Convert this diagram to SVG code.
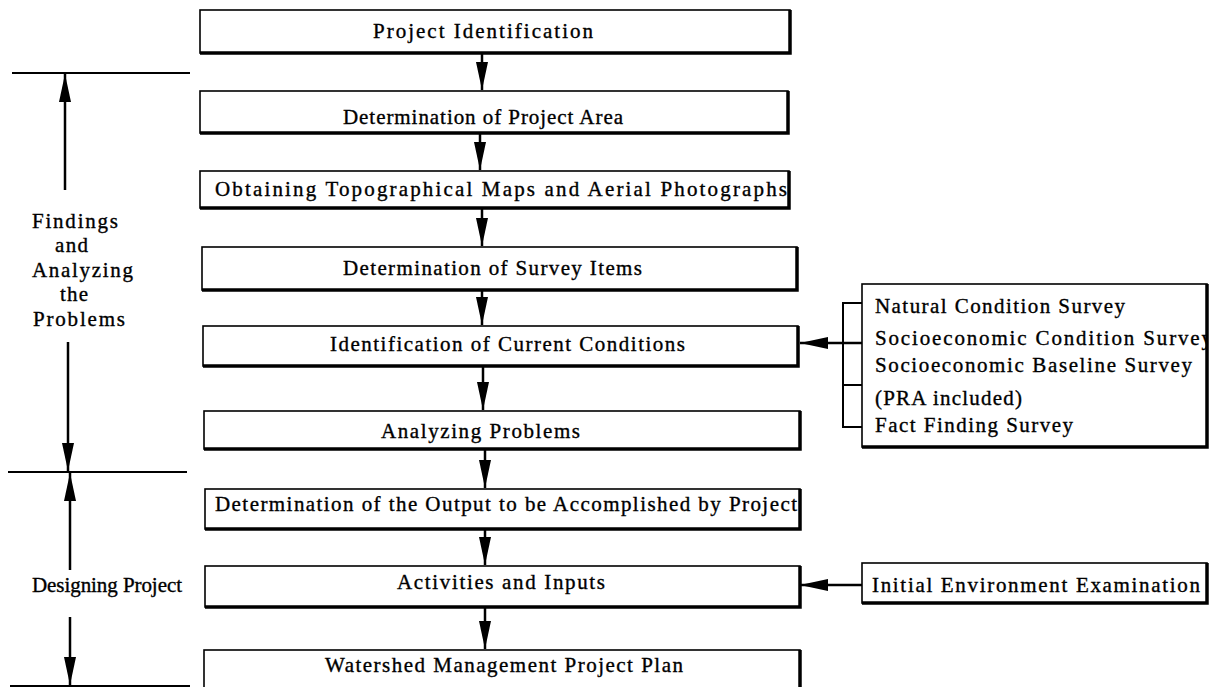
<svg xmlns="http://www.w3.org/2000/svg" width="1216" height="687" viewBox="0 0 1216 687">
<style>
.box{fill:#fff;stroke:#000;stroke-width:1.6}
.sh{fill:none;stroke:#000;stroke-width:3.5}
.t{font-family:"Liberation Serif","Times New Roman",serif;font-size:21px;fill:#000;stroke:#000;stroke-width:0.35}
.ln{fill:none;stroke:#000;stroke-width:2}
.ar{fill:none;stroke:#000;stroke-width:2.5;marker-end:url(#ah)}
</style>
<defs>
<marker id="ah" viewBox="0 0 28 12" refX="28" refY="6" markerWidth="28" markerHeight="12" markerUnits="userSpaceOnUse" orient="auto">
<path d="M0,0 L28,6 L0,12 z" fill="#000"/>
</marker>
<clipPath id="cl"><rect x="862" y="284" width="344" height="163"/></clipPath>
</defs>
<rect width="1216" height="687" fill="#fff"/>

<g id="connectors">
<line class="ar" x1="482" y1="53" x2="482" y2="90"/>
<line class="ar" x1="480" y1="133" x2="480" y2="170"/>
<line class="ar" x1="482" y1="208" x2="482" y2="246"/>
<line class="ar" x1="482" y1="290" x2="482" y2="325"/>
<line class="ar" x1="483" y1="366" x2="483" y2="410"/>
<line class="ar" x1="485" y1="449" x2="485" y2="488"/>
<line class="ar" x1="485" y1="529" x2="485" y2="565"/>
<line class="ar" x1="485" y1="607" x2="485" y2="649"/>
<line class="ar" x1="862" y1="343" x2="800" y2="343"/>
<polyline class="ln" points="862,303 843,303 843,427 862,427"/>
<line class="ln" x1="843" y1="385" x2="862" y2="385"/>
<line class="ar" x1="862" y1="585" x2="800" y2="585"/>
<line class="ln" x1="12" y1="73" x2="190" y2="73"/>
<line class="ln" x1="8" y1="472" x2="187" y2="472"/>
<line class="ln" x1="10" y1="686" x2="190" y2="686"/>
<line class="ar" x1="65" y1="190" x2="65" y2="74"/>
<line class="ar" x1="68" y1="342" x2="68" y2="471"/>
<line class="ar" x1="70" y1="570" x2="70" y2="473"/>
<line class="ar" x1="70" y1="617" x2="70" y2="685"/>
</g>

<g id="n1">
<rect class="box" x="200" y="10" width="590" height="43"/>
<polyline class="sh" points="790,10 790,53 200,53"/>
<text class="t" x="373" y="38" textLength="220" lengthAdjust="spacing">Project Identification</text>
</g>
<g id="n2">
<rect class="box" x="200" y="91" width="588" height="42"/>
<polyline class="sh" points="788,91 788,133 200,133"/>
<text class="t" x="343" y="124" textLength="280" lengthAdjust="spacing">Determination of Project Area</text>
</g>
<g id="n3">
<rect class="box" x="200" y="171" width="589" height="37"/>
<polyline class="sh" points="789,171 789,208 200,208"/>
<text class="t" x="215" y="196" textLength="572" lengthAdjust="spacing">Obtaining Topographical Maps and Aerial Photographs</text>
</g>
<g id="n4">
<rect class="box" x="202" y="247" width="595" height="43"/>
<polyline class="sh" points="797,247 797,290 202,290"/>
<text class="t" x="343" y="275" textLength="299" lengthAdjust="spacing">Determination of Survey Items</text>
</g>
<g id="n5">
<rect class="box" x="203" y="326" width="595" height="40"/>
<polyline class="sh" points="798,326 798,366 203,366"/>
<text class="t" x="330" y="351" textLength="355" lengthAdjust="spacing">Identification of Current Conditions</text>
</g>
<g id="n6">
<rect class="box" x="204" y="411" width="596" height="38"/>
<polyline class="sh" points="800,411 800,449 204,449"/>
<text class="t" x="381" y="438" textLength="199" lengthAdjust="spacing">Analyzing Problems</text>
</g>
<g id="n7">
<rect class="box" x="205" y="489" width="595" height="40"/>
<polyline class="sh" points="800,489 800,529 205,529"/>
<text class="t" x="215" y="511" textLength="582" lengthAdjust="spacing">Determination of the Output to be Accomplished by Project</text>
</g>
<g id="n8">
<rect class="box" x="205" y="566" width="595" height="41"/>
<polyline class="sh" points="800,566 800,607 205,607"/>
<text class="t" x="397" y="589" textLength="208" lengthAdjust="spacing">Activities and Inputs</text>
</g>
<g id="n9">
<rect class="box" x="204" y="650" width="596" height="40"/>
<polyline class="sh" points="800,650 800,690"/>
<text class="t" x="325" y="672" textLength="358" lengthAdjust="spacing">Watershed Management Project Plan</text>
</g>

<g id="surveys">
<rect class="box" x="862" y="284" width="345" height="163"/>
<polyline class="sh" points="1207,284 1207,447 862,447"/>
<text class="t" x="875" y="313" textLength="250" lengthAdjust="spacing">Natural Condition Survey</text>
<text class="t" x="875" y="345" textLength="337" lengthAdjust="spacing" clip-path="url(#cl)">Socioeconomic Condition Survey</text>
<text class="t" x="875" y="372" textLength="317" lengthAdjust="spacing">Socioeconomic Baseline Survey</text>
<text class="t" x="875" y="405" textLength="147" lengthAdjust="spacing">(PRA included)</text>
<text class="t" x="875" y="432" textLength="198" lengthAdjust="spacing">Fact Finding Survey</text>
</g>

<g id="iee">
<rect class="box" x="862" y="563" width="345" height="40"/>
<polyline class="sh" points="1207,563 1207,603 862,603"/>
<text class="t" x="872" y="592" textLength="328" lengthAdjust="spacing">Initial Environment Examination</text>
</g>

<g id="phase1">
<text class="t" x="32" y="228" textLength="86" lengthAdjust="spacing">Findings</text>
<text class="t" x="55" y="252" textLength="33" lengthAdjust="spacing">and</text>
<text class="t" x="32" y="277" textLength="101" lengthAdjust="spacing">Analyzing</text>
<text class="t" x="60" y="301" textLength="28" lengthAdjust="spacing">the</text>
<text class="t" x="33" y="326" textLength="92" lengthAdjust="spacing">Problems</text>
</g>
<g id="phase2">
<text class="t" x="32" y="592" textLength="150" lengthAdjust="spacing">Designing Project</text>
</g>
</svg>
